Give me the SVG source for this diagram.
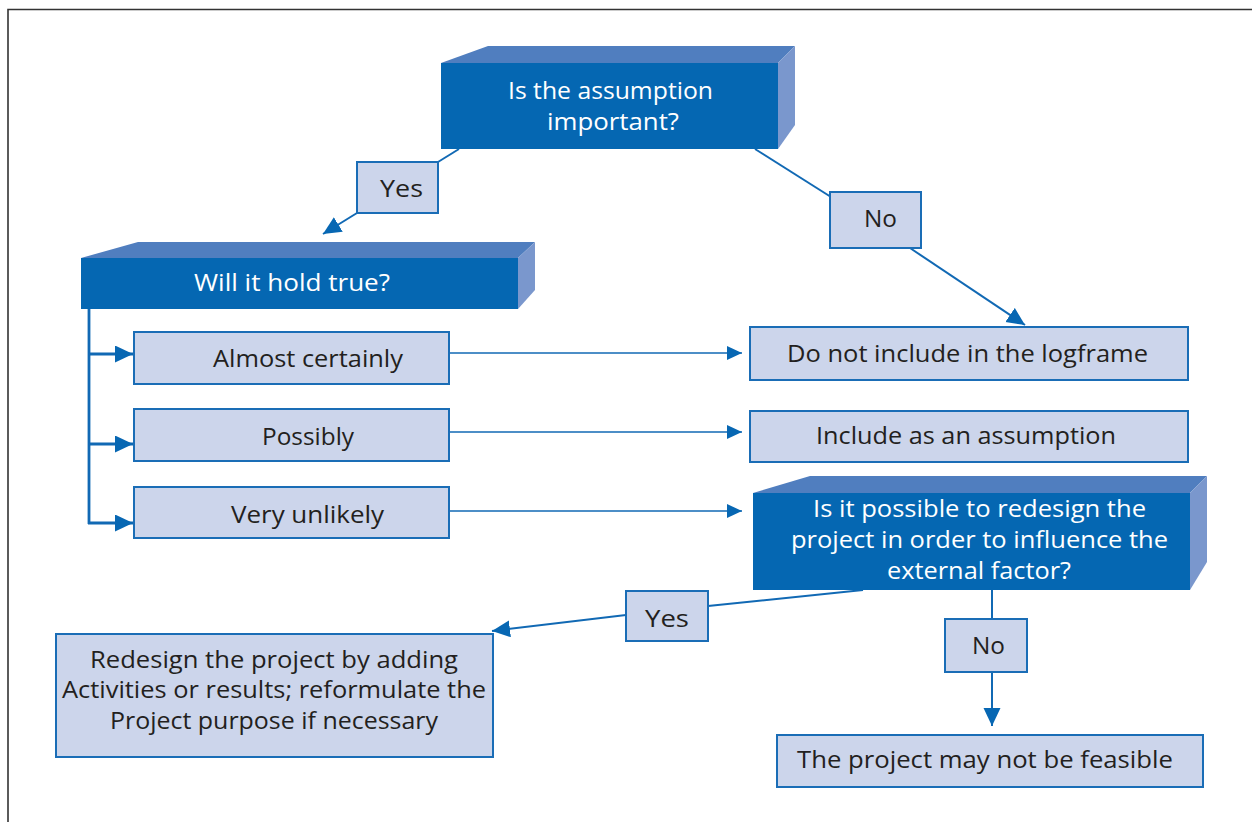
<svg xmlns="http://www.w3.org/2000/svg" width="1252" height="822" viewBox="0 0 1252 822">
<style>
.front{fill:#0567B2}
.top{fill:#507EBF}
.side{fill:#7A97CD}
.lbl{fill:#CCD5EB;stroke:#1A6DB6;stroke-width:2}
.con{fill:none;stroke:#1169B4;stroke-width:2}
.bus{fill:none;stroke:#1169B4;stroke-width:2.8}
.thin{fill:none;stroke:#1169B4;stroke-width:1.6}
.w{font-family:"Open Sans","Noto Sans",sans-serif;font-size:24px;fill:#FFFFFF}
.d{font-family:"Open Sans","Noto Sans",sans-serif;font-size:24px;fill:#231F20}
</style>
<defs>
<marker id="big" markerUnits="userSpaceOnUse" markerWidth="20" markerHeight="20" refX="18" refY="8.5" orient="auto">
<path d="M0,0 L18,8.5 L0,17 z" fill="#0767B3"/>
</marker>
<marker id="small" markerUnits="userSpaceOnUse" markerWidth="18" markerHeight="16" refX="15" refY="7" orient="auto">
<path d="M0,0 L15,7 L0,14 z" fill="#0767B3"/>
</marker>
</defs>
<rect width="1252" height="822" fill="#FFFFFF"/>
<path d="M8,822 V9.5 H1252" fill="none" stroke="#333333" stroke-width="1.6"/>

<g id="connectors">
<line class="con" x1="459" y1="149" x2="438" y2="162"/>
<line class="con" x1="357" y1="213" x2="323" y2="234" marker-end="url(#big)"/>
<line class="con" x1="755" y1="149" x2="831" y2="197"/>
<line class="con" x1="910" y1="248" x2="1025" y2="325" marker-end="url(#big)"/>
<path class="bus" d="M89,309 V524"/>
<line class="bus" x1="89" y1="354" x2="133" y2="354" marker-end="url(#big)"/>
<line class="bus" x1="89" y1="444" x2="133" y2="444" marker-end="url(#big)"/>
<line class="bus" x1="88" y1="523" x2="133" y2="523" marker-end="url(#big)"/>
<line class="thin" x1="449" y1="353" x2="742" y2="353" marker-end="url(#small)"/>
<line class="thin" x1="449" y1="432" x2="742" y2="432" marker-end="url(#small)"/>
<line class="thin" x1="449" y1="511" x2="742" y2="511" marker-end="url(#small)"/>
<line class="con" x1="863" y1="590" x2="708" y2="606"/>
<line class="con" x1="626" y1="615" x2="492" y2="631" marker-end="url(#big)"/>
<line class="con" x1="992" y1="590" x2="992" y2="619"/>
<line class="con" x1="992" y1="672" x2="992" y2="726" marker-end="url(#big)"/>
</g>

<g id="q-important">
<polygon class="top" points="441,63 488,46 795,46 778,63"/>
<polygon class="side" points="778,63 795,46 795,125 778,149"/>
<rect class="front" x="441" y="63" width="337" height="86"/>
<text class="w" x="508" y="99" textLength="205" lengthAdjust="spacingAndGlyphs">Is the assumption</text>
<text class="w" x="547" y="130" textLength="132" lengthAdjust="spacingAndGlyphs">important?</text>
</g>

<g id="yes-1">
<rect class="lbl" x="357" y="162" width="81" height="51"/>
<text class="d" x="380" y="197" textLength="43" lengthAdjust="spacingAndGlyphs">Yes</text>
</g>

<g id="no-1">
<rect class="lbl" x="830" y="192" width="91" height="56"/>
<text class="d" x="864" y="227" textLength="33" lengthAdjust="spacingAndGlyphs">No</text>
</g>

<g id="q-hold">
<polygon class="top" points="81,258 138,242 535,242 518,258"/>
<polygon class="side" points="518,258 535,242 535,290 518,309"/>
<rect class="front" x="81" y="258" width="437" height="51"/>
<text class="w" x="194" y="291" textLength="196" lengthAdjust="spacingAndGlyphs">Will it hold true?</text>
</g>

<g id="almost">
<rect class="lbl" x="134" y="332" width="315" height="52"/>
<text class="d" x="213" y="367" textLength="190" lengthAdjust="spacingAndGlyphs">Almost certainly</text>
</g>

<g id="possibly">
<rect class="lbl" x="134" y="409" width="315" height="52"/>
<text class="d" x="262" y="445" textLength="92" lengthAdjust="spacingAndGlyphs">Possibly</text>
</g>

<g id="unlikely">
<rect class="lbl" x="134" y="487" width="315" height="51"/>
<text class="d" x="231" y="523" textLength="153" lengthAdjust="spacingAndGlyphs">Very unlikely</text>
</g>

<g id="not-include">
<rect class="lbl" x="750" y="327" width="438" height="53"/>
<text class="d" x="787" y="362" textLength="361" lengthAdjust="spacingAndGlyphs">Do not include in the logframe</text>
</g>

<g id="include">
<rect class="lbl" x="750" y="411" width="438" height="51"/>
<text class="d" x="816" y="444" textLength="300" lengthAdjust="spacingAndGlyphs">Include as an assumption</text>
</g>

<g id="q-redesign">
<polygon class="top" points="753,493 810,476 1207,476 1190,493"/>
<polygon class="side" points="1190,493 1207,476 1207,562 1190,590"/>
<rect class="front" x="753" y="493" width="437" height="97"/>
<text class="w" x="813" y="517" textLength="333" lengthAdjust="spacingAndGlyphs">Is it possible to redesign the</text>
<text class="w" x="791" y="548" textLength="377" lengthAdjust="spacingAndGlyphs">project in order to influence the</text>
<text class="w" x="887" y="579" textLength="184" lengthAdjust="spacingAndGlyphs">external factor?</text>
</g>

<g id="yes-2">
<rect class="lbl" x="626" y="591" width="82" height="50"/>
<text class="d" x="645" y="627" textLength="44" lengthAdjust="spacingAndGlyphs">Yes</text>
</g>

<g id="no-2">
<rect class="lbl" x="945" y="619" width="82" height="53"/>
<text class="d" x="972" y="654" textLength="33" lengthAdjust="spacingAndGlyphs">No</text>
</g>

<g id="redesign">
<rect class="lbl" x="56" y="634" width="437" height="123"/>
<text class="d" x="90" y="668" textLength="368" lengthAdjust="spacingAndGlyphs">Redesign the project by adding</text>
<text class="d" x="62" y="698" textLength="424" lengthAdjust="spacingAndGlyphs">Activities or results; reformulate the</text>
<text class="d" x="110" y="729" textLength="328" lengthAdjust="spacingAndGlyphs">Project purpose if necessary</text>
</g>

<g id="not-feasible">
<rect class="lbl" x="777" y="735" width="426" height="52"/>
<text class="d" x="797" y="768" textLength="376" lengthAdjust="spacingAndGlyphs">The project may not be feasible</text>
</g>
</svg>
